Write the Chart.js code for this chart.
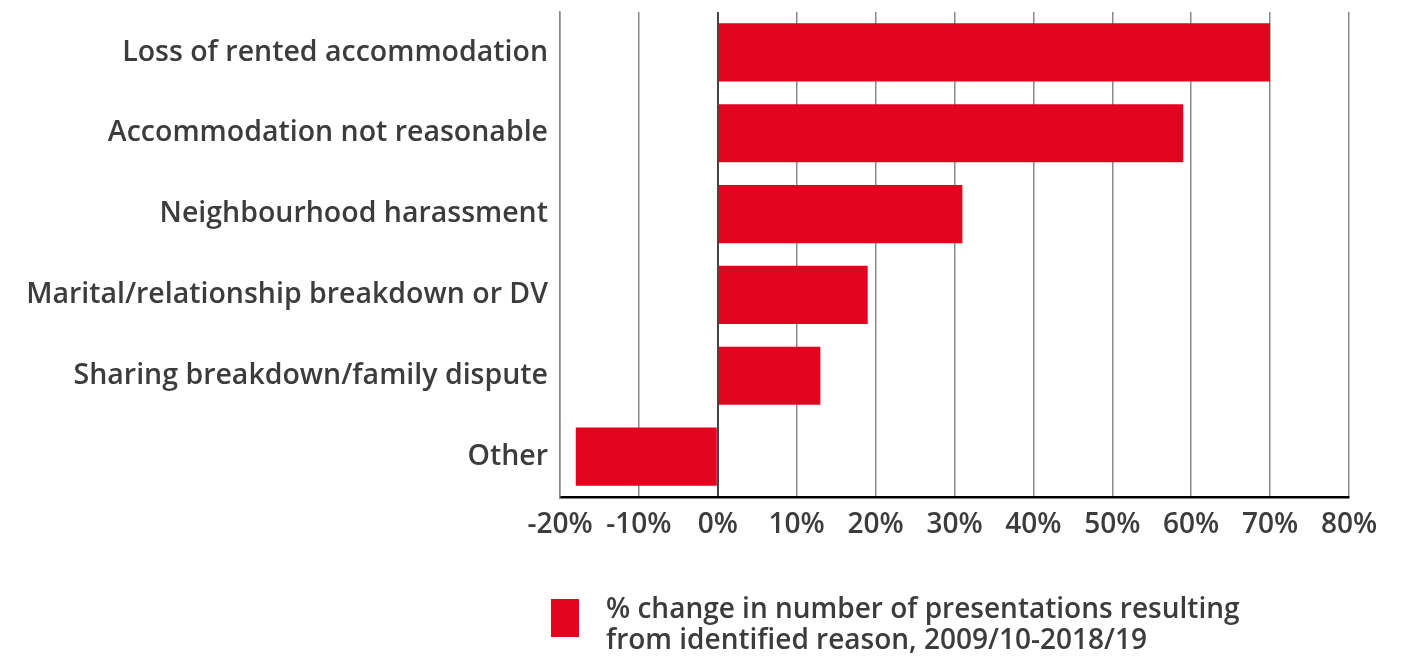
<!DOCTYPE html>
<html>
<head>
<meta charset="utf-8">
<script src="https://cdn.jsdelivr.net/npm/chart.js@4/dist/chart.umd.min.js"></script>
<style>
html,body{margin:0;padding:0;background:#fff;}
#wrap{width:1411px;height:659px;position:relative;}
</style>
</head>
<body>
<div id="wrap"><canvas id="c" width="1411" height="659"></canvas></div>
<script>
const categories = [
  "Loss of rented accommodation",
  "Accommodation not reasonable",
  "Neighbourhood harassment",
  "Marital/relationship breakdown or DV",
  "Sharing breakdown/family dispute",
  "Other"
];
const values = [70, 59, 31, 19, 13, -18];
const seriesLabel = ["% change in number of presentations resulting", "from identified reason, 2009/10-2018/19"];
const xMin = -20, xMax = 80, xStep = 10;

const FONT = "'Open Sans', sans-serif";
const TXT = '#3c3c3c';
const RED = '#e2051f';

const legendPlugin = {
  id: 'customLegend',
  afterDraw(chart) {
    const ctx = chart.ctx;
    const ds = chart.data.datasets[0];
    ctx.save();
    ctx.fillStyle = ds.backgroundColor;
    ctx.fillRect(551, 599, 28, 38);
    ctx.fillStyle = TXT;
    ctx.font = "600 28px " + FONT;
    ctx.textBaseline = 'middle';
    ctx.textAlign = 'left';
    const lines = ds.label;
    lines.forEach((l, i) => ctx.fillText(l, 606, 610 + i * 31));
    ctx.restore();
  }
};

new Chart(document.getElementById('c'), {
  type: 'bar',
  data: {
    labels: categories,
    datasets: [{
      label: seriesLabel,
      data: values,
      backgroundColor: RED,
      borderWidth: 0,
      barPercentage: 0.72,
      categoryPercentage: 1.0
    }]
  },
  options: {
    indexAxis: 'y',
    responsive: false,
    animation: false,
    layout: { padding: { top: 12, right: 62, bottom: 0, left: 0 } },
    plugins: { legend: { display: false }, tooltip: { enabled: false } },
    scales: {
      x: {
        min: xMin, max: xMax,
        ticks: {
          stepSize: xStep,
          callback: v => v + '%',
          color: TXT,
          font: { family: FONT, size: 28, weight: '600' },
          padding: 11
        },
        grid: {
          drawTicks: false,
          color: ctx => ctx.tick && ctx.tick.value === 0 ? '#444' : '#8a8a8a',
          lineWidth: ctx => ctx.tick && ctx.tick.value === 0 ? 2 : 1.5
        },
        border: { display: true, color: '#000', width: 2.5 },
        afterFit: s => { s.height = 162; s.paddingLeft = 0; s.paddingRight = 0; }
      },
      y: {
        ticks: {
          color: TXT,
          font: { family: FONT, size: 28.5, weight: '600' },
          padding: 12
        },
        grid: { display: false, drawTicks: false },
        border: { display: true, color: '#8a8a8a', width: 1.5 },
        afterFit: s => { s.width = 560; s.paddingTop = 0; s.paddingBottom = 0; }
      }
    }
  },
  plugins: [legendPlugin]
});
</script>
</body>
</html>
